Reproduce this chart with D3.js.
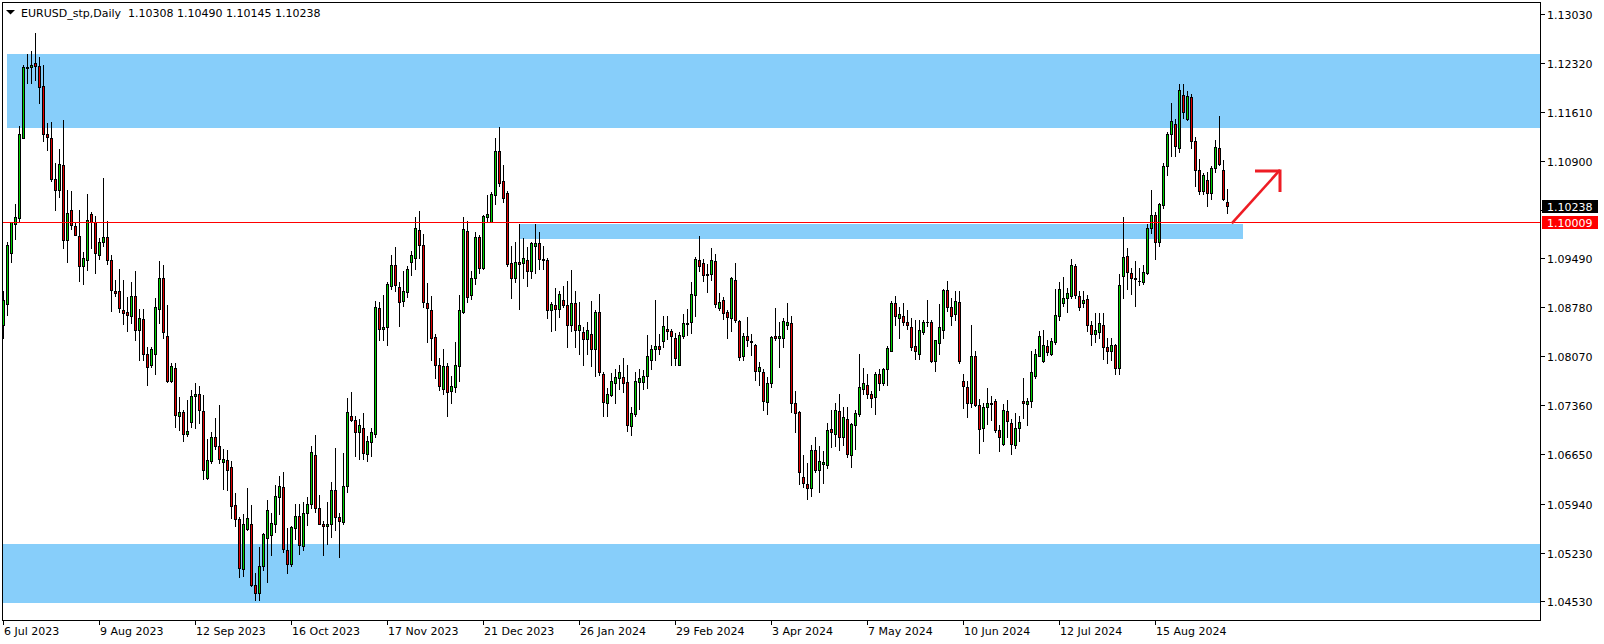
<!DOCTYPE html>
<html><head><meta charset="utf-8">
<script src="https://cdn.jsdelivr.net/npm/d3@7"></script>
<style>html,body{margin:0;padding:0;background:#fff;overflow:hidden}text{font-family:"DejaVu Sans",Verdana,sans-serif}</style>
</head><body><svg id="c" width="1604" height="644"></svg>
<script>
// ---- Data (EURUSD_stp, Daily) ----
const opens = [
1.0853,1.0882,1.0956,1.0999,1.1007,1.1123,1.1224,1.1226,1.1232,1.1227,
1.1198,1.1129,1.1123,1.1064,1.1047,1.1084,1.0975,1.1018,1.0995,1.0981,
1.0937,1.0947,1.1013,1.1001,1.0954,1.0972,1.0979,1.0947,1.0901,1.0901,
1.0874,1.0871,1.0865,1.0894,1.0845,1.0861,1.0810,1.0794,1.0810,1.0875,
1.0921,1.0836,1.0772,1.0790,1.0721,1.0726,1.0695,1.0712,1.0749,1.0753,
1.0728,1.0631,1.0656,1.0690,1.0677,1.0654,1.0657,1.0647,1.0592,1.0572,
1.0500,1.0557,1.0564,1.0476,1.0465,1.0503,1.0544,1.0549,1.0565,1.0603,
1.0618,1.0527,1.0506,1.0559,1.0576,1.0532,1.0581,1.0594,1.0664,1.0588,
1.0565,1.0561,1.0564,1.0613,1.0574,1.0568,1.0619,1.0720,1.0715,1.0697,
1.0703,1.0665,1.0683,1.0695,1.0877,1.0846,1.0850,1.0909,1.0939,1.0908,
1.0887,1.0900,1.0943,1.0949,1.0990,1.0968,1.0884,1.0874,1.0835,1.0795,
1.0760,1.0793,1.0757,1.0762,1.0793,1.0871,1.0989,1.0896,1.0921,1.0979,
1.0935,1.1008,1.1002,1.1041,1.1104,1.1060,1.1043,1.0942,1.0920,1.0943,
1.0942,1.0947,1.0930,1.0966,1.0971,1.0948,1.0946,1.0874,1.0881,1.0875,
1.0889,1.0881,1.0852,1.0884,1.0845,1.0842,1.0832,1.0839,1.0817,1.0871,
1.0781,1.0739,1.0751,1.0769,1.0775,1.0777,1.0770,1.0706,1.0724,1.0770,
1.0770,1.0778,1.0802,1.0817,1.0822,1.0829,1.0847,1.0844,1.0834,1.0795,
1.0836,1.0854,1.0856,1.0896,1.0947,1.0942,1.0924,1.0926,1.0945,1.0877,
1.0889,1.0871,1.0863,1.0917,1.0858,1.0807,1.0836,1.0829,1.0823,1.0786,
1.0784,1.0741,1.0768,1.0836,1.0833,1.0834,1.0853,1.0855,1.0740,1.0726,
1.0632,1.0622,1.0617,1.0671,1.0642,1.0651,1.0650,1.0702,1.0694,1.0728,
1.0690,1.0716,1.0664,1.0707,1.0723,1.0759,1.0765,1.0753,1.0748,1.0781,
1.0768,1.0788,1.0815,1.0884,1.0863,1.0865,1.0857,1.0850,1.0822,1.0810,
1.0842,1.0856,1.0856,1.0800,1.0826,1.0845,1.0903,1.0878,1.0868,1.0885,
1.0772,1.0763,1.0739,1.0807,1.0736,1.0703,1.0733,1.0738,1.0742,1.0700,
1.0680,1.0728,1.0710,1.0678,1.0703,1.0743,1.0738,1.0743,1.0779,1.0808,
1.0800,1.0822,1.0811,1.0827,1.0866,1.0884,1.0892,1.0894,1.0938,1.0895,
1.0884,1.0890,1.0853,1.0839,1.0842,1.0853,1.0820,1.0814,1.0824,1.0790,
1.0923,1.0952,1.0927,1.0920,1.0916,1.0914,1.0928,1.0992,1.1011,1.0972,
1.1026,1.1083,1.1128,1.1143,1.1109,1.1185,1.1151,1.1182,1.1118,1.1076,
1.1046,1.1062,1.1043,1.1080,1.1108,1.1076,1.10308];
const highs = [
1.0901,1.0973,1.1002,1.1027,1.1140,1.1228,1.1244,1.1249,1.1275,1.1240,
1.1228,1.1145,1.1146,1.1086,1.1107,1.1149,1.1048,1.1046,1.1002,1.1019,
1.0958,1.1042,1.1016,1.1010,1.0978,1.1065,1.1003,1.0953,1.0917,1.0934,
1.0917,1.0893,1.0914,1.0930,1.0876,1.0876,1.0821,1.0821,1.0891,1.0945,
1.0939,1.0881,1.0797,1.0797,1.0748,1.0730,1.0744,1.0758,1.0768,1.0764,
1.0751,1.0687,1.0697,1.0718,1.0737,1.0673,1.0671,1.0656,1.0609,1.0574,
1.0579,1.0617,1.0592,1.0494,1.0531,1.0552,1.0599,1.0580,1.0621,1.0634,
1.0640,1.0559,1.0562,1.0594,1.0593,1.0596,1.0603,1.0677,1.0693,1.0606,
1.0569,1.0596,1.0625,1.0675,1.0580,1.0667,1.0746,1.0755,1.0720,1.0716,
1.0725,1.0692,1.0704,1.0887,1.0886,1.0896,1.0914,1.0953,1.0965,1.0914,
1.0930,1.0938,1.0959,1.1008,1.1017,1.0984,1.0913,1.0894,1.0840,1.0805,
1.0818,1.0798,1.0779,1.0828,1.0896,1.1008,1.1003,1.0931,1.0987,1.0983,
1.1011,1.1040,1.1045,1.1123,1.1139,1.1084,1.1046,1.0966,1.0972,1.0998,
1.0978,1.0965,1.0973,1.0998,1.0987,1.0967,1.0949,1.0885,1.0906,1.0901,
1.0909,1.0916,1.0932,1.0902,1.0886,1.0849,1.0857,1.0887,1.0874,1.0897,
1.0785,1.0761,1.0783,1.0789,1.0794,1.0805,1.0795,1.0734,1.0785,1.0788,
1.0787,1.0838,1.0823,1.0888,1.0839,1.0866,1.0866,1.0846,1.0841,1.0842,
1.0868,1.0876,1.0915,1.0950,1.0981,1.0948,1.0940,1.0964,1.0955,1.0899,
1.0893,1.0874,1.0922,1.0942,1.0860,1.0841,1.0864,1.0840,1.0825,1.0799,
1.0789,1.0777,1.0836,1.0877,1.0856,1.0863,1.0884,1.0865,1.0757,1.0728,
1.0664,1.0653,1.0678,1.0690,1.0677,1.0670,1.0711,1.0730,1.0739,1.0752,
1.0734,1.0734,1.0710,1.0730,1.0811,1.0790,1.0782,1.0757,1.0784,1.0788,
1.0790,1.0822,1.0887,1.0894,1.0879,1.0884,1.0874,1.0862,1.0860,1.0860,
1.0860,1.0888,1.0860,1.0831,1.0882,1.0904,1.0916,1.0891,1.0901,1.0901,
1.0781,1.0772,1.0852,1.0815,1.0745,1.0739,1.0761,1.0749,1.0745,1.0707,
1.0738,1.0744,1.0717,1.0725,1.0720,1.0775,1.0746,1.0814,1.0817,1.0844,
1.0845,1.0831,1.0833,1.0904,1.0914,1.0922,1.0906,1.0948,1.0941,1.0901,
1.0902,1.0896,1.0858,1.0869,1.0869,1.0870,1.0833,1.0833,1.0825,1.0926,
1.1008,1.0963,1.0935,1.0945,1.0935,1.0939,1.0999,1.1047,1.1016,1.1029,
1.1086,1.1132,1.1174,1.1151,1.1201,1.1201,1.1191,1.1187,1.1124,1.1093,
1.1072,1.1074,1.1082,1.1120,1.1155,1.1091,1.10490];
const lows = [
1.0833,1.0867,1.0943,1.0977,1.1001,1.1123,1.1203,1.1202,1.1207,1.1173,
1.1118,1.1106,1.1060,1.1019,1.1037,1.0964,1.0943,1.0991,1.0982,1.0916,
1.0911,1.0932,1.0964,1.0928,1.0948,1.0966,1.0940,1.0873,1.0895,1.0871,
1.0854,1.0844,1.0855,1.0831,1.0802,1.0801,1.0765,1.0792,1.0781,1.0855,
1.0834,1.0770,1.0770,1.0705,1.0700,1.0685,1.0692,1.0705,1.0704,1.0710,
1.0630,1.0630,1.0652,1.0673,1.0652,1.0615,1.0613,1.0573,1.0561,1.0487,
1.0489,1.0556,1.0475,1.0454,1.0454,1.0498,1.0480,1.0519,1.0553,1.0579,
1.0524,1.0494,1.0503,1.0542,1.0521,1.0527,1.0563,1.0588,1.0582,1.0564,
1.0520,1.0535,1.0546,1.0556,1.0516,1.0564,1.0611,1.0714,1.0663,1.0658,
1.0659,1.0655,1.0663,1.0691,1.0830,1.0830,1.0824,1.0904,1.0901,1.0851,
1.0880,1.0893,1.0924,1.0934,1.0949,1.0878,1.0827,1.0802,1.0776,1.0758,
1.0753,1.0721,1.0740,1.0755,1.0772,1.0870,1.0886,1.0890,1.0911,1.0928,
1.0934,1.1003,1.1002,1.1028,1.1054,1.1031,1.0937,1.0892,1.0914,1.0876,
1.0921,1.0909,1.0921,1.0928,1.0933,1.0933,1.0862,1.0843,1.0845,1.0864,
1.0878,1.0820,1.0843,1.0820,1.0811,1.0795,1.0811,1.0793,1.0779,1.0780,
1.0721,1.0721,1.0749,1.0740,1.0760,1.0755,1.0699,1.0693,1.0721,1.0731,
1.0760,1.0761,1.0789,1.0802,1.0811,1.0821,1.0832,1.0795,1.0795,1.0795,
1.0834,1.0838,1.0841,1.0866,1.0930,1.0916,1.0900,1.0917,1.0879,1.0874,
1.0861,1.0834,1.0844,1.0856,1.0801,1.0801,1.0822,1.0809,1.0773,1.0766,
1.0730,1.0723,1.0763,1.0830,1.0791,1.0820,1.0846,1.0727,1.0698,1.0622,
1.0618,1.0600,1.0605,1.0640,1.0610,1.0623,1.0646,1.0676,1.0677,1.0672,
1.0679,1.0662,1.0647,1.0673,1.0720,1.0753,1.0746,1.0734,1.0723,1.0758,
1.0765,1.0766,1.0814,1.0853,1.0834,1.0853,1.0847,1.0816,1.0803,1.0803,
1.0839,1.0851,1.0799,1.0786,1.0810,1.0833,1.0873,1.0853,1.0860,1.0798,
1.0732,1.0719,1.0733,1.0735,1.0667,1.0685,1.0709,1.0715,1.0698,1.0670,
1.0679,1.0690,1.0665,1.0675,1.0685,1.0718,1.0708,1.0734,1.0776,1.0807,
1.0799,1.0809,1.0809,1.0825,1.0859,1.0880,1.0871,1.0892,1.0892,1.0874,
1.0879,1.0843,1.0824,1.0827,1.0833,1.0803,1.0797,1.0801,1.0781,1.0781,
1.0892,1.0905,1.0897,1.0880,1.0910,1.0911,1.0926,1.0985,1.0948,1.0967,
1.1021,1.1070,1.1097,1.1097,1.1102,1.1152,1.1149,1.1108,1.1053,1.1042,
1.1042,1.1025,1.1034,1.1073,1.1084,1.1033,1.10145];
const closes = [
1.0888,1.0968,1.1001,1.1008,1.1129,1.1226,1.1226,1.1229,1.1227,1.1196,
1.1128,1.1125,1.1063,1.1047,1.1085,1.0975,1.1014,1.0997,1.0983,1.0937,
1.0949,1.1004,1.1001,1.0956,1.0973,1.0979,1.0946,1.0903,1.0899,1.0877,
1.0870,1.0867,1.0895,1.0845,1.0862,1.0810,1.0792,1.0818,1.0879,1.0921,
1.0842,1.0772,1.0793,1.0722,1.0726,1.0695,1.0699,1.0750,1.0753,1.0729,
1.0642,1.0657,1.0690,1.0677,1.0659,1.0658,1.0642,1.0591,1.0571,1.0501,
1.0564,1.0573,1.0476,1.0465,1.0504,1.0550,1.0585,1.0566,1.0605,1.0619,
1.0528,1.0507,1.0560,1.0576,1.0534,1.0581,1.0593,1.0669,1.0588,1.0565,
1.0561,1.0564,1.0613,1.0574,1.0569,1.0620,1.0726,1.0715,1.0698,1.0707,
1.0667,1.0684,1.0697,1.0878,1.0846,1.0850,1.0911,1.0939,1.0910,1.0886,
1.0902,1.0933,1.0953,1.0992,1.0968,1.0885,1.0877,1.0834,1.0795,1.0764,
1.0793,1.0756,1.0764,1.0794,1.0874,1.0991,1.0893,1.0921,1.0979,1.0935,
1.1010,1.1013,1.1042,1.1104,1.1058,1.1036,1.0940,1.0920,1.0943,1.0941,
1.0949,1.0930,1.0971,1.0971,1.0948,1.0946,1.0874,1.0882,1.0875,1.0897,
1.0881,1.0853,1.0884,1.0845,1.0852,1.0832,1.0845,1.0817,1.0871,1.0784,
1.0741,1.0753,1.0771,1.0777,1.0784,1.0769,1.0707,1.0725,1.0771,1.0776,
1.0779,1.0807,1.0817,1.0822,1.0818,1.0851,1.0843,1.0837,1.0804,1.0838,
1.0855,1.0855,1.0897,1.0948,1.0937,1.0924,1.0926,1.0946,1.0882,1.0886,
1.0870,1.0864,1.0921,1.0859,1.0806,1.0836,1.0830,1.0827,1.0786,1.0791,
1.0742,1.0768,1.0835,1.0833,1.0836,1.0858,1.0856,1.0740,1.0725,1.0639,
1.0623,1.0617,1.0671,1.0642,1.0655,1.0654,1.0700,1.0697,1.0729,1.0691,
1.0719,1.0665,1.0709,1.0725,1.0762,1.0768,1.0753,1.0746,1.0781,1.0769,
1.0788,1.0819,1.0884,1.0866,1.0868,1.0856,1.0853,1.0821,1.0814,1.0845,
1.0857,1.0857,1.0800,1.0830,1.0849,1.0903,1.0878,1.0866,1.0887,1.0800,
1.0764,1.0739,1.0807,1.0736,1.0702,1.0733,1.0739,1.0740,1.0700,1.0691,
1.0730,1.0713,1.0680,1.0703,1.0712,1.0739,1.0743,1.0784,1.0810,1.0836,
1.0823,1.0813,1.0829,1.0867,1.0905,1.0892,1.0898,1.0939,1.0896,1.0878,
1.0889,1.0853,1.0839,1.0845,1.0855,1.0820,1.0814,1.0824,1.0790,1.0910,
1.0950,1.0929,1.0921,1.0919,1.0916,1.0929,1.0992,1.1011,1.0972,1.1027,
1.1083,1.1128,1.1148,1.1111,1.1192,1.1160,1.1183,1.1118,1.1076,1.1046,
1.1070,1.1043,1.1080,1.1110,1.1085,1.1034,1.10238];

const dateLabels = ["6 Jul 2023","9 Aug 2023","12 Sep 2023","16 Oct 2023","17 Nov 2023","21 Dec 2023","26 Jan 2024","29 Feb 2024","3 Apr 2024","7 May 2024","10 Jun 2024","12 Jul 2024","15 Aug 2024"];
const dateLabelBars = [0,24,48,72,96,120,144,168,192,216,240,264,288];
const priceTicks = [1.13030,1.12320,1.11610,1.10900,1.10190,1.09490,1.08780,1.08070,1.07360,1.06650,1.05940,1.05230,1.04530];

// zones (rectangles) : price top / bottom, start bar / end bar
const zoneTops    = [1.1245, 1.0536, 1.09985];
const zoneBottoms = [1.1137, 1.0450, 1.0977];
const zoneStart   = [1, -10, 129];
const zoneEnd     = [420, 420, 310];

const levelLine = 1.10009;
const lastPrice = 1.10238;
const header = "EURUSD_stp,Daily  1.10308 1.10490 1.10145 1.10238";
const arrowBars = [307.2, 319.25];
const arrowPrices = [1.09995, 1.10766];

// ---- Drawing ----
const W = 1604, H = 644;
const GREEN = "#00d000", RED = "#e00000", ZONE = "#87CEFA";
const y = d3.scaleLinear().domain([1.04530, 1.13030]).range([601, 13.5]);
const x = d3.scaleLinear().domain([0, 306]).range([3, 1227]);

const svg = d3.select("#c");
svg.append("rect").attr("width", W).attr("height", H).attr("fill", "#fff");
svg.append("defs").append("clipPath").attr("id", "pc")
  .append("rect").attr("x", 3).attr("y", 3).attr("width", 1537).attr("height", 617);

const g = svg.append("g").attr("clip-path", "url(#pc)").attr("shape-rendering", "crispEdges");

// zones
g.selectAll("rect.zone").data(zoneTops).enter().append("rect").attr("class", "zone")
  .attr("x", (d, k) => Math.round(x(zoneStart[k])))
  .attr("y", d => Math.round(y(d)))
  .attr("width", (d, k) => Math.round(x(zoneEnd[k])) - Math.round(x(zoneStart[k])))
  .attr("height", (d, k) => Math.round(y(zoneBottoms[k])) - Math.round(y(d)))
  .attr("fill", ZONE);

// candles
const cg = g.append("g");
opens.forEach((o, i) => {
  const c = closes[i], h = highs[i], l = lows[i];
  const cx = Math.round(x(i));
  const yh = Math.round(y(h)), yl = Math.round(y(l));
  cg.append("rect").attr("x", cx).attr("y", yh).attr("width", 1).attr("height", Math.max(1, yl - yh + 1)).attr("fill", "#000");
  const yt = Math.round(y(Math.max(o, c))), yb = Math.round(y(Math.min(o, c)));
  cg.append("rect").attr("x", cx - 1).attr("y", yt).attr("width", 3).attr("height", yb - yt + 1).attr("fill", "#000");
  if (yb - yt >= 2) {
    cg.append("rect").attr("x", cx).attr("y", yt + 1).attr("width", 1).attr("height", yb - yt - 1)
      .attr("fill", c >= o ? GREEN : RED);
  }
});

// level line
g.append("rect").attr("x", 3).attr("y", Math.round(y(levelLine))).attr("width", 1540).attr("height", 1).attr("fill", "#ff0000");

// arrow
const ax0 = x(arrowBars[0]), ay0 = y(arrowPrices[0]), ax1 = x(arrowBars[1]), ay1 = y(arrowPrices[1]);
svg.append("line").attr("x1", ax0).attr("y1", ay0).attr("x2", ax1).attr("y2", ay1)
  .attr("stroke", "#ee1c24").attr("stroke-width", 2.6);
svg.append("path").attr("d", `M${ax1 - 25},${ay1 + 1} L${ax1},${ay1 + 1} L${ax1},${ay1 + 22}`)
  .attr("fill", "none").attr("stroke", "#ee1c24").attr("stroke-width", 3);

// frame
svg.append("rect").attr("x", 2.5).attr("y", 2.5).attr("width", 1538).attr("height", 618)
  .attr("fill", "none").attr("stroke", "#000").attr("stroke-width", 1).attr("shape-rendering", "crispEdges");

// price axis (the 1.10190 label sits under the current-price box, so only its tick shows)
const pa = svg.append("g");
const boxTop = Math.round(y(lastPrice) - 6.5), boxBottom = Math.round(y(levelLine) - 6.5) + 13;
priceTicks.forEach(p => {
  const ty = Math.round(y(p));
  pa.append("rect").attr("x", 1541).attr("y", ty).attr("width", 4).attr("height", 1).attr("fill", "#000").attr("shape-rendering", "crispEdges");
  if (ty + 5 < boxTop || ty - 5 > boxBottom) {
    pa.append("text").attr("x", 1547).attr("y", ty + 4.5).attr("font-size", 11).attr("fill", "#000").text(p.toFixed(5));
  }
});
// current price and level boxes
[[lastPrice, "#000"], [levelLine, "#ff0000"]].forEach(([p, col]) => {
  const ty = y(p);
  pa.append("rect").attr("x", 1542).attr("y", Math.round(ty - 6.5)).attr("width", 56).attr("height", 13)
    .attr("fill", col).attr("shape-rendering", "crispEdges");
  pa.append("text").attr("x", 1547).attr("y", Math.round(ty) + 4.5).attr("font-size", 11).attr("fill", "#fff").text(p.toFixed(5));
});

// time axis
const ta = svg.append("g");
dateLabelBars.forEach((b, k) => {
  const tx = Math.round(x(b));
  ta.append("rect").attr("x", tx).attr("y", 621).attr("width", 1).attr("height", 4).attr("fill", "#000").attr("shape-rendering", "crispEdges");
  ta.append("text").attr("x", tx + 1).attr("y", 635).attr("font-size", 11).attr("fill", "#000").text(dateLabels[k]);
});

// header
svg.append("path").attr("d", "M6,10 L15,10 L10.5,14.5 Z").attr("fill", "#000");
svg.append("text").attr("x", 21).attr("y", 17).attr("font-size", 11).attr("fill", "#000")
  .style("white-space", "pre").text(header);
</script>
</body></html>
